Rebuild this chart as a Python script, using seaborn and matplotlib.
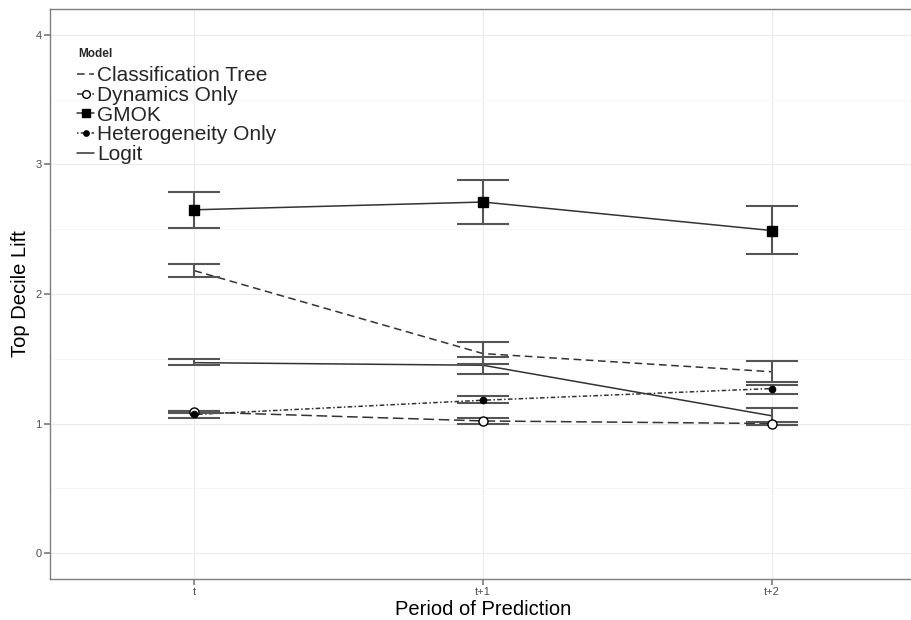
import pandas as pd
import matplotlib.pyplot as plt
import seaborn as sns
from matplotlib.lines import Line2D

# ------------------------------------------------------------------------------
# DATA
# ------------------------------------------------------------------------------
periods = ['t', 't+1', 't+2']
models = ['Classification Tree', 'Dynamics Only', 'GMOK', 'Heterogeneity Only', 'Logit']

ct_lift = [2.18, 1.54, 1.40]
ct_lo = [2.13, 1.46, 1.32]
ct_hi = [2.23, 1.63, 1.48]

dyn_lift = [1.09, 1.02, 1.00]
dyn_lo = [1.08, 1.00, 0.985]
dyn_hi = [1.10, 1.04, 1.015]

gmok_lift = [2.65, 2.71, 2.49]
gmok_lo = [2.51, 2.54, 2.31]
gmok_hi = [2.79, 2.88, 2.68]

het_lift = [1.07, 1.18, 1.27]
het_lo = [1.04, 1.16, 1.23]
het_hi = [1.10, 1.21, 1.30]

logit_lift = [1.47, 1.45, 1.06]
logit_lo = [1.45, 1.385, 0.99]
logit_hi = [1.50, 1.515, 1.12]

lifts = [ct_lift, dyn_lift, gmok_lift, het_lift, logit_lift]
los = [ct_lo, dyn_lo, gmok_lo, het_lo, logit_lo]
his = [ct_hi, dyn_hi, gmok_hi, het_hi, logit_hi]

rows = []
for m, lv, lo, hi in zip(models, lifts, los, his):
    for i, p in enumerate(periods):
        rows.append({'Model': m, 'Period': p, 'pos': i, 'Lift': lv[i], 'lo': lo[i], 'hi': hi[i]})
df = pd.DataFrame(rows)

# line / marker style per model (ggplot-like linetypes and shapes)
styles = {
    'Classification Tree': dict(ls=(0, (5, 3)), marker=None, mfc=None, ms=0),
    'Dynamics Only': dict(ls=(0, (7, 3)), marker='o', mfc='white', ms=6.5),
    'GMOK': dict(ls='-', marker='s', mfc='black', ms=6.5),
    'Heterogeneity Only': dict(ls=(0, (1, 1.5, 3, 1.5)), marker='o', mfc='black', ms=4.5),
    'Logit': dict(ls='-', marker=None, mfc=None, ms=0),
}

# ------------------------------------------------------------------------------
# PLOT
# ------------------------------------------------------------------------------
sns.set_theme(style="white")
plt.rcParams['font.family'] = ['Liberation Sans', 'DejaVu Sans']

fig = plt.figure(figsize=(9.11, 6.2), dpi=100)
ax = fig.add_axes([50 / 911, 1 - 579 / 620, 866 / 911, 570 / 620])

for m in models:
    sub = df[df['Model'] == m]
    st = styles[m]
    sns.lineplot(data=sub, x='pos', y='Lift', ax=ax, color='#333333',
                 linestyle=st['ls'], linewidth=1.1, legend=False, zorder=3)
    ax.errorbar(sub['pos'], sub['Lift'],
                yerr=[sub['Lift'] - sub['lo'], sub['hi'] - sub['Lift']],
                fmt='none', ecolor='#555555', elinewidth=1.5, capsize=18.5,
                capthick=1.5, zorder=4)
    if st['marker']:
        ax.plot(sub['pos'], sub['Lift'], ls='none', marker=st['marker'],
                ms=st['ms'], mfc=st['mfc'], mec='black', mew=1, zorder=5)

ax.set_xlim(-0.5, 2.5)
ax.set_ylim(-0.2, 4.2)
ax.set_xticks(range(len(periods)))
ax.set_xticklabels(periods)
ax.set_yticks([0, 1, 2, 3, 4])
ax.set_yticks([0.5, 1.5, 2.5, 3.5], minor=True)
ax.grid(True, which='major', color='#ebebeb', linewidth=0.8)
ax.grid(True, which='minor', axis='y', color='#f5f5f5', linewidth=0.6)
ax.set_axisbelow(True)

for s in ax.spines.values():
    s.set_color('#7f7f7f')
    s.set_linewidth(1)
ax.tick_params(axis='both', which='major', length=4, color='#7f7f7f',
               labelsize=8, labelcolor='#4d4d4d', bottom=True, left=True, pad=2)
ax.tick_params(axis='both', which='minor', length=0)

ax.set_xlabel('Period of Prediction', fontsize=14.5, color='black', labelpad=2)
ax.set_ylabel('Top Decile Lift', fontsize=14.5, color='black', labelpad=4)

# legend inside top-left, no frame; title drawn as separate text
handles = []
for m in models:
    st = styles[m]
    handles.append(Line2D([], [], color='#333333', linestyle=st['ls'], linewidth=1.1,
                          marker=st['marker'] if st['marker'] else None,
                          ms=st['ms'] * 0.85, mfc=st['mfc'], mec='black'))
ax.legend(handles, models, loc='upper left',
          bbox_to_anchor=(0.022, 0.914), frameon=False, fontsize=15,
          handlelength=0.8, handletextpad=0.15,
          labelspacing=0.03, borderaxespad=0)
ax.text(0.0323, 0.921, 'Model', transform=ax.transAxes, fontsize=8.5,
        fontweight='bold', ha='left', va='center')

fig.savefig('out.png', dpi=100)
